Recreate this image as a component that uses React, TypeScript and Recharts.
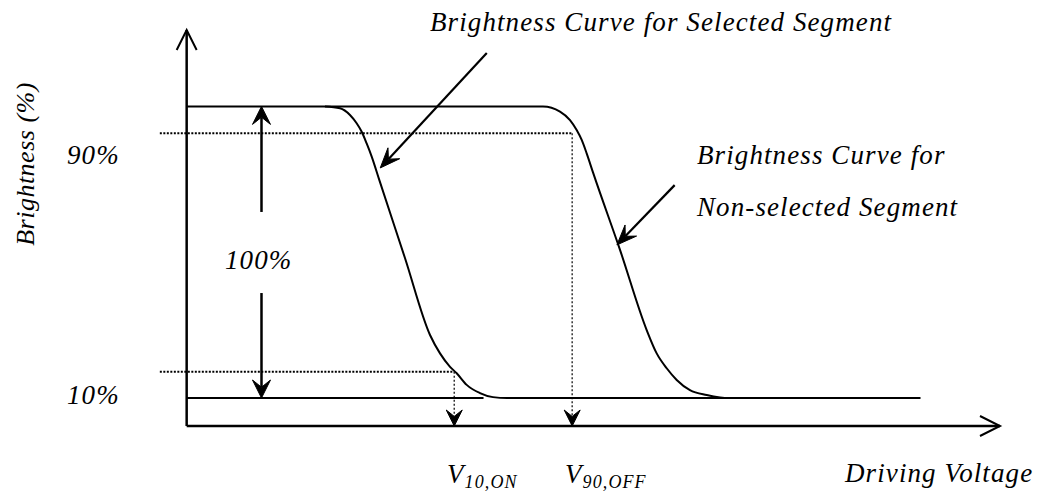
import React from 'react';
import { LineChart, Line, XAxis, YAxis, ReferenceLine } from 'recharts';

// driving voltage (arbitrary units) vs brightness (%)
const SELECTED_V = [1.70, 1.885, 2.008, 2.09, 2.152, 2.213, 2.275, 2.368, 2.684, 2.992, 3.115, 3.238, 3.32, 3.443, 3.606, 3.766, 3.938, 9.02];
const SELECTED_B = [100, 99.35, 97.05, 94.2, 91.3, 87.3, 82.8, 74.8, 48.0, 21.6, 15.3, 10.7, 8.5, 4.5, 1.7, 0.3, 0, 0];

const NONSEL_V = [0, 4.381, 4.59, 4.713, 4.795, 4.857, 4.918, 4.999, 5.328, 5.656, 5.779, 5.902, 6.025, 6.188, 6.394, 6.558, 6.655, 9.02];
const NONSEL_B = [100, 100, 98.2, 95.3, 91.9, 88.5, 83.9, 77.1, 50.8, 23.3, 15.3, 10.2, 6.2, 2.7, 1.0, 0.2, 0, 0];

const BASE_V = [0, 3.65];
const BASE_B = [0, 0];

const LEVEL_90 = 90.8;
const LEVEL_10 = 9.0;
const V10_ON = 3.29;
const V90_OFF = 4.74;
const SPAN_X = 0.92;

const X_DOMAIN: [number, number] = [-0.5, 10];
const Y_DOMAIN: [number, number] = [-9.6, 126.2];

const selected = SELECTED_V.map((v, i) => ({ v, b: SELECTED_B[i] }));
const nonSelected = NONSEL_V.map((v, i) => ({ v, b: NONSEL_B[i] }));
const base = BASE_V.map((v, i) => ({ v, b: BASE_B[i] }));

type Head = 'open' | 'barb' | 'none';

const arrow = (head: Head, len = 15, half = 8) => (p: any) => {
  const { x1, y1, x2, y2, stroke, strokeWidth, strokeDasharray } = p;
  const dx = x2 - x1;
  const dy = y2 - y1;
  const d = Math.hypot(dx, dy) || 1;
  const ux = dx / d;
  const uy = dy / d;
  const nx = -uy;
  const ny = ux;
  const bx = x2 - ux * len;
  const by = y2 - uy * len;
  let tip = null;
  if (head === 'open') {
    tip = (
      <path
        d={`M${bx + nx * half},${by + ny * half} L${x2},${y2} L${bx - nx * half},${by - ny * half}`}
        fill="none"
        stroke="#000"
        strokeWidth={2}
      />
    );
  } else if (head === 'barb') {
    const mx = x2 - ux * len * 0.6;
    const my = y2 - uy * len * 0.6;
    tip = (
      <path
        d={`M${x2},${y2} L${bx + nx * half},${by + ny * half} L${mx},${my} L${bx - nx * half},${by - ny * half} Z`}
        fill="#000"
        stroke="#000"
        strokeWidth={1}
      />
    );
  }
  const ex = head === 'barb' ? x2 - ux * len * 0.6 : x2;
  const ey = head === 'barb' ? y2 - uy * len * 0.6 : y2;
  return (
    <g>
      <line x1={x1} y1={y1} x2={ex} y2={ey} stroke={stroke} strokeWidth={strokeWidth} strokeDasharray={strokeDasharray} />
      {tip}
    </g>
  );
};

const serif = '"Liberation Serif", "Times New Roman", serif';

export default function App() {
  return (
    <div style={{ position: 'absolute', left: 0, top: 0, width: 1038, height: 492, background: '#fff' }}>
      <LineChart width={1038} height={492} margin={{ top: 30, right: 38, bottom: 66, left: 146 }}>
        <XAxis dataKey="v" type="number" domain={X_DOMAIN} hide allowDataOverflow />
        <YAxis type="number" domain={Y_DOMAIN} hide allowDataOverflow />

        {/* axes */}
        <ReferenceLine segment={[{ x: 0, y: Y_DOMAIN[0] }, { x: 0, y: Y_DOMAIN[1] }]} stroke="#000" strokeWidth={2.5} shape={arrow('open', 20, 10)} ifOverflow="visible" />
        <ReferenceLine segment={[{ x: 0, y: Y_DOMAIN[0] }, { x: X_DOMAIN[1], y: Y_DOMAIN[0] }]} stroke="#000" strokeWidth={2.5} shape={arrow('open', 20, 10)} ifOverflow="visible" />

        {/* 90% / 10% guides */}
        <ReferenceLine segment={[{ x: -0.33, y: LEVEL_90 }, { x: V90_OFF, y: LEVEL_90 }]} stroke="#000" strokeWidth={2} strokeDasharray="2 1.5" shape={arrow('none')} ifOverflow="visible" />
        <ReferenceLine segment={[{ x: V90_OFF, y: LEVEL_90 }, { x: V90_OFF, y: Y_DOMAIN[0] }]} stroke="#333" strokeWidth={1.5} strokeDasharray="2 2" shape={arrow('barb', 16, 8)} ifOverflow="visible" />
        <ReferenceLine segment={[{ x: -0.33, y: LEVEL_10 }, { x: V10_ON, y: LEVEL_10 }]} stroke="#000" strokeWidth={2} strokeDasharray="2 1.5" shape={arrow('none')} ifOverflow="visible" />
        <ReferenceLine segment={[{ x: V10_ON, y: LEVEL_10 }, { x: V10_ON, y: Y_DOMAIN[0] }]} stroke="#333" strokeWidth={1.5} strokeDasharray="2 2" shape={arrow('barb', 16, 8)} ifOverflow="visible" />

        {/* 100% span arrow */}
        <ReferenceLine segment={[{ x: SPAN_X, y: 63.8 }, { x: SPAN_X, y: 100 }]} stroke="#000" strokeWidth={2.5} shape={arrow('barb', 18, 9)} ifOverflow="visible" />
        <ReferenceLine segment={[{ x: SPAN_X, y: 36.0 }, { x: SPAN_X, y: 0 }]} stroke="#000" strokeWidth={2.5} shape={arrow('barb', 18, 9)} ifOverflow="visible" />

        {/* pointers to curves */}
        <ReferenceLine segment={[{ x: 3.69, y: 118.3 }, { x: 2.38, y: 78.9 }]} stroke="#000" strokeWidth={2.2} shape={arrow('barb', 20, 8)} ifOverflow="visible" />
        <ReferenceLine segment={[{ x: 6.0, y: 73.0 }, { x: 5.29, y: 52.5 }]} stroke="#000" strokeWidth={2.2} shape={arrow('barb', 20, 8)} ifOverflow="visible" />

        <Line data={base} dataKey="b" type="linear" stroke="#000" strokeWidth={2} dot={false} isAnimationActive={false} />
        <Line data={nonSelected} dataKey="b" type="monotone" stroke="#000" strokeWidth={2} dot={false} isAnimationActive={false} />
        <Line data={selected} dataKey="b" type="monotone" stroke="#000" strokeWidth={2} dot={false} isAnimationActive={false} />
      </LineChart>

      <svg width={1038} height={492} style={{ position: 'absolute', left: 0, top: 0, pointerEvents: 'none' }}>
        <g fontFamily={serif} fontStyle="italic" fontSize={27} fill="#000" letterSpacing={1.1}>
          <text x={430} y={31}>Brightness Curve for Selected Segment</text>
          <text x={697} y={164}>Brightness Curve for</text>
          <text x={697} y={216}>Non-selected Segment</text>
          <text x={67} y={164}>90%</text>
          <text x={67} y={404}>10%</text>
          <text x={225} y={269}>100%</text>
          <text x={34} y={164} textAnchor="middle" fontSize={26} letterSpacing={0.5} transform="rotate(-90 34 164)">Brightness (%)</text>
          <text x={447} y={483}>V<tspan fontSize={18} dy={5}>10,ON</tspan></text>
          <text x={565} y={483}>V<tspan fontSize={18} dy={5}>90,OFF</tspan></text>
          <text x={845} y={482}>Driving Voltage</text>
        </g>
      </svg>
    </div>
  );
}
